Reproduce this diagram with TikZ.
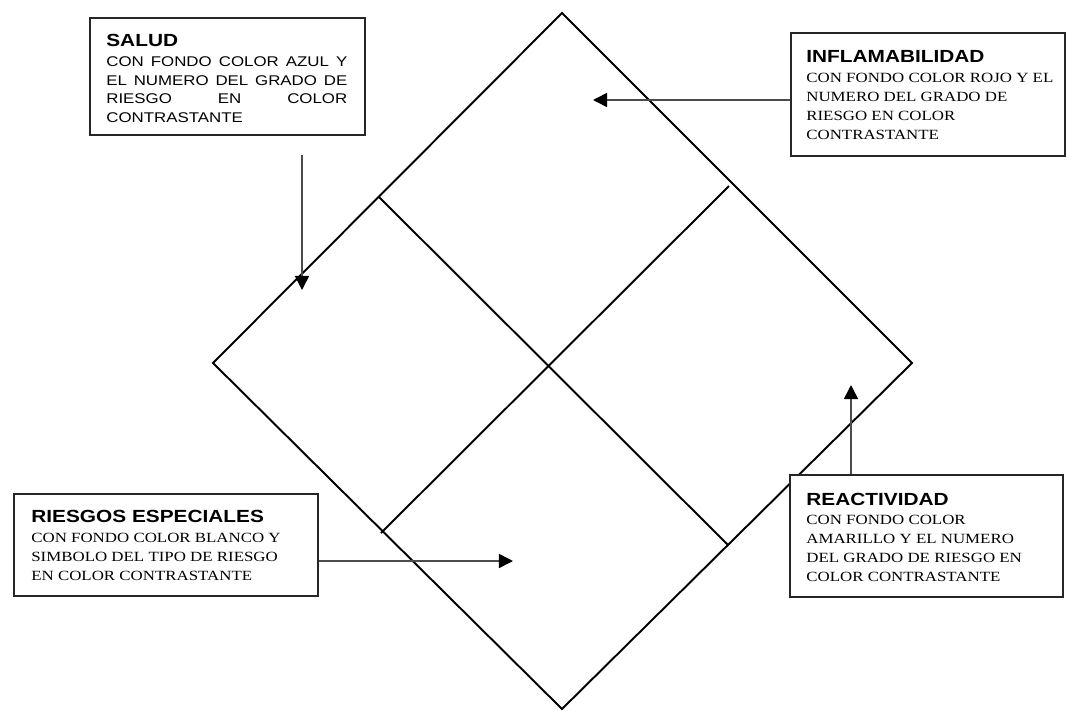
\documentclass[tikz,border=0pt]{standalone}
\usepackage{fontspec}
\usetikzlibrary{arrows.meta}
\newfontfamily\hfamily[FakeStretch=1.185]{Liberation Sans}
\newfontfamily\bsans[FakeStretch=1.2]{Liberation Sans}
\newfontfamily\bserif[FakeStretch=1.2]{Liberation Serif}
\newcommand\headfont{\hfamily\bfseries\fontsize{10}{12}\selectfont}
\begin{document}
\begin{tikzpicture}[x=0.569pt,y=-0.569pt,
  box/.style={draw=black!85, fill=white, line width=0.9pt, rectangle, inner sep=0pt, anchor=north west},
  txt/.style={inner sep=0pt, anchor=north west, align=left, yshift=8pt},
  serifbody/.style={font={\bserif\fontsize{8}{10.9}\selectfont}},
  edge/.style={line width=1.1pt, line join=miter},
  arr/.style={draw=black!70, line width=0.9pt, -{Triangle[length=8pt,width=8pt,color=black]}}]

\useasboundingbox (0,0) rectangle (1067,711);

% diamond
\coordinate (T) at (562,13);
\coordinate (R) at (912,363);
\coordinate (B) at (562,709);
\coordinate (L) at (213,363);
\draw[edge] (T) -- (R) -- (B) -- (L) -- cycle;
\coordinate (a1) at (379,197);
\coordinate (a2) at (728,545);
\coordinate (b1) at (381,533);
\coordinate (b2) at (729,186);
\draw[edge] (a1) -- (a2);
\draw[edge] (b1) -- (b2);

% boxes
\node[box, minimum width=156.5pt, minimum height=66.6pt] (salud) at (89,17) {};
\node[box, minimum width=155.9pt, minimum height=70.0pt] (infl) at (790,32) {};
\node[box, minimum width=173.0pt, minimum height=58.0pt] (riesgos) at (13,493) {};
\node[box, minimum width=155.3pt, minimum height=69.4pt] (react) at (789,474) {};

% texts
\node[txt, text width=137.1pt, align=justify, font={\bsans\fontsize{8}{10.6}\selectfont}] (saludtxt) at (106,46)
  {\rule{0pt}{8pt}{\headfont SALUD}\\[0.8pt]
   CON FONDO COLOR AZUL Y\linebreak EL NUMERO DEL GRADO DE\linebreak RIESGO EN COLOR\linebreak CONTRASTANTE};
\node[txt, serifbody] (infltxt) at (806,62)
  {\rule{0pt}{8pt}{\headfont INFLAMABILIDAD}\\[0.5pt]
   CON FONDO COLOR ROJO Y EL\\ NUMERO DEL GRADO DE\\ RIESGO EN COLOR\\ CONTRASTANTE};
\node[txt, serifbody] (riesgostxt) at (31,522)
  {\rule{0pt}{8pt}{\headfont RIESGOS ESPECIALES}\\[0.5pt]
   CON FONDO COLOR BLANCO Y\\ SIMBOLO DEL TIPO DE RIESGO\\ EN COLOR CONTRASTANTE};
\node[txt, serifbody] (reacttxt) at (806,505)
  {\rule{0pt}{8pt}{\headfont REACTIVIDAD}\\[0.0pt]
   CON FONDO COLOR\\ AMARILLO Y EL NUMERO\\ DEL GRADO DE RIESGO EN\\ COLOR CONTRASTANTE};

% arrows
\coordinate (s1) at (302,155);
\coordinate (s2) at (302,290);
\draw[arr] (s1) -- (s2);
\coordinate (itip) at (593,100);
\draw[arr] (infl.west |- itip) -- (itip);
\coordinate (rtip) at (513,561);
\draw[arr] (riesgos.east |- rtip) -- (rtip);
\coordinate (atip) at (851,385);
\draw[arr] (react.north -| atip) -- (atip);
\end{tikzpicture}
\end{document}
